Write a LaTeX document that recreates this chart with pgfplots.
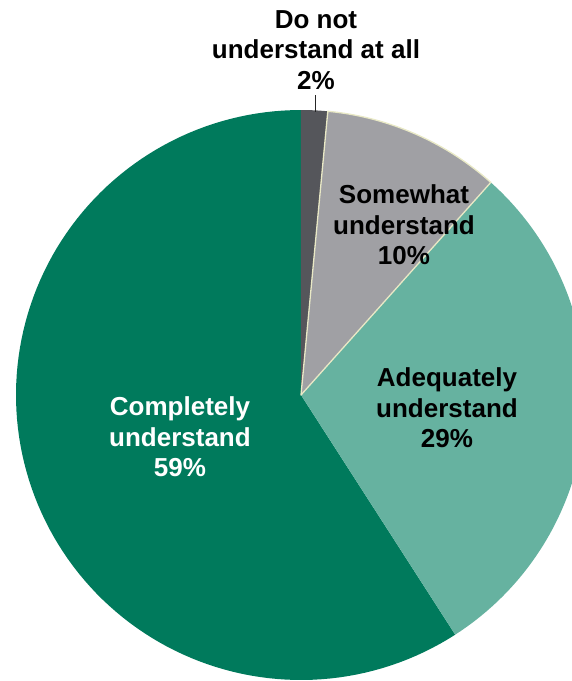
\documentclass[border=0pt]{standalone}
\usepackage{fontspec}
\setmainfont{Liberation Sans}
\usepackage{pgfplots}
\usepackage{pgfplotstable}
\pgfplotsset{compat=1.18}
\definecolor{cDark}{HTML}{55565B}
\definecolor{cGray}{HTML}{A0A0A4}
\definecolor{cLight}{HTML}{66B2A0}
\definecolor{cGreen}{HTML}{007A5C}
\definecolor{cCream}{HTML}{E9E9C6}
\tikzset{lbl/.style={font=\fontsize{26bp}{30.5bp}\selectfont\bfseries, align=center, inner sep=0pt}}
\pgfplotstableread{
share
1.5
10.1
29.3
59.1
}\pietable
\pgfplotstablegetelem{0}{share}\of\pietable \let\vA\pgfplotsretval
\pgfplotstablegetelem{1}{share}\of\pietable \let\vB\pgfplotsretval
\pgfplotstablegetelem{2}{share}\of\pietable \let\vC\pgfplotsretval
\pgfplotstablegetelem{3}{share}\of\pietable \let\vD\pgfplotsretval
\pgfmathsetmacro\aA{90-3.6*\vA}
\pgfmathsetmacro\aB{\aA-3.6*\vB}
\pgfmathsetmacro\aC{\aB-3.6*\vC}
\pgfmathsetmacro\aD{\aC-3.6*\vD}
\begin{document}
\begin{tikzpicture}
\begin{axis}[
  scale only axis, width=572bp, height=681bp,
  xmin=-1.0561, xmax=0.9509, ymin=-1.0035, ymax=1.3860,
  hide axis, clip=true,
]
\coordinate (sw) at (rel axis cs:0,0);
\coordinate (ne) at (rel axis cs:1,1);
\addplot[fill=cGreen, draw=none, domain=\aD:\aC, samples=120] ({cos(x)},{sin(x)}) -- (axis cs:0,0) -- cycle;
\addplot[fill=cLight, draw=none, domain=\aC:\aB, samples=80] ({cos(x)},{sin(x)}) -- (axis cs:0,0) -- cycle;
\addplot[fill=cDark, draw=none, domain=\aA:90, samples=10] ({cos(x)},{sin(x)}) -- (axis cs:0,0) -- cycle;
\addplot[fill=cGray, draw=cCream, line width=1.3bp, line join=round, domain=\aB:\aA, samples=40] ({cos(x)},{sin(x)}) -- (axis cs:0,0) -- cycle;
\addplot[draw=black!85, line width=1bp] coordinates {(0.0526,1.0526) (0.0526,0.994)};
\node[lbl, text=black] at (axis cs:0.0526,1.2105) {Do not\\understand at all\\2\%};
\node[lbl, text=black] at (axis cs:0.3614,0.5965) {Somewhat\\understand\\10\%};
\node[lbl, text=black] at (axis cs:0.5123,-0.0456) {Adequately\\understand\\29\%};
\node[lbl, text=white] at (axis cs:-0.4246,-0.1474) {Completely\\understand\\59\%};
\end{axis}
\pgfresetboundingbox
\useasboundingbox (sw) rectangle (ne);
\end{tikzpicture}
\end{document}
